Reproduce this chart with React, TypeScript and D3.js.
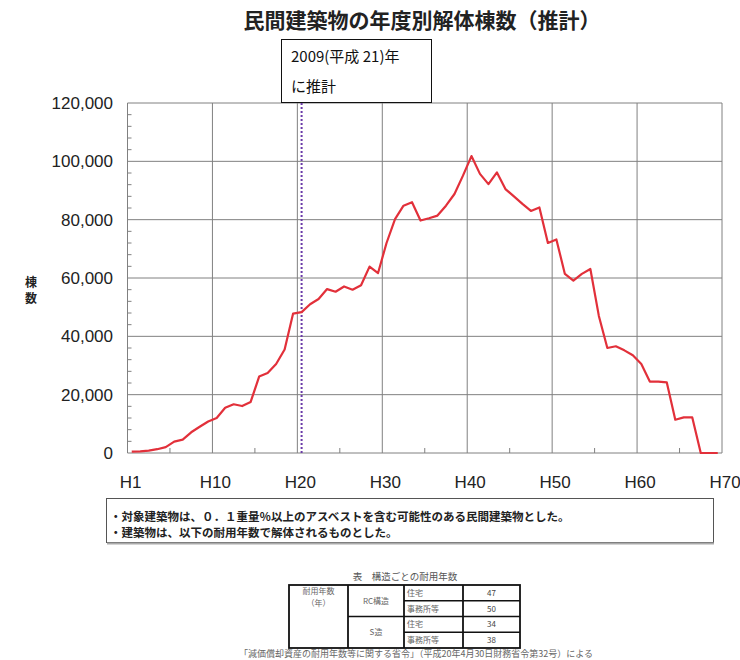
import React, { useRef, useEffect } from 'react';
import * as d3 from 'd3';

// chart title and labels
const title = '民間建築物の年度別解体棟数（推計）';
const yAxisTitle = ['棟', '数'];
const estimateNote = ['2009(平成 21)年', 'に推計'];
const estimateYear = 21;

// demolished buildings per fiscal year, H1 .. H70
const demolitions = [
    450, 550, 800, 1300, 2000, 3900, 4600, 7100, 9000, 10800,
    12000, 15500, 16700, 16100, 17500, 26200, 27400, 30500, 35500, 47800,
    48300, 51000, 52800, 56200, 55300, 57100, 56000, 57500, 63900, 61700,
    72000, 80200, 84800, 86000, 79700, 80500, 81400, 84800, 88800, 95100,
    101800, 95700, 92200, 96200, 90500, 88000, 85400, 83000, 84200, 72000,
    73200, 61400, 59100, 61400, 63100, 47000, 36000, 36600, 35200, 33500,
    30500, 24500, 24500, 24200, 11400, 12200, 12200, 0, 0, 0,
];

const xTicks = [0, 10, 20, 30, 40, 50, 60, 70];
const xTickLabels = ['H1', 'H10', 'H20', 'H30', 'H40', 'H50', 'H60', 'H70'];
const xMinorTicks = [5, 15, 25, 35, 45, 55, 65];
const yTicks = [0, 20000, 40000, 60000, 80000, 100000, 120000];

const notes = [
    '・対象建築物は、０．１重量％以上のアスベストを含む可能性のある民間建築物とした。',
    '・建築物は、以下の耐用年数で解体されるものとした。',
];

// table of service lives
const tableCaption = '表　構造ごとの耐用年数';
const lifeHeader = ['耐用年数', '（年）'];
const structures = ['RC構造', 'S造'];
const uses = ['住宅', '事務所等'];
const lifetimes = [47, 50, 34, 38];
const tableSource = '「減価償却資産の耐用年数等に関する省令」（平成20年4月30日財務省令第32号）による';

const JP = '"Noto Sans CJK JP", sans-serif';
const LAT = '"Liberation Sans", Arial, sans-serif';

const DemolitionChart = () => {
    const chartRef = useRef<SVGSVGElement>(null);

    useEffect(() => {
        const width = 740;
        const height = 660;
        const svg = d3.select(chartRef.current)
            .attr('width', width)
            .attr('height', height);
        svg.selectAll('*').remove();

        svg.append('rect').attr('width', width).attr('height', height).attr('fill', '#fff');

        const x = d3.scaleLinear().domain([0, 70]).range([127.5, 722]);
        const y = d3.scaleLinear().domain([0, 120000]).range([453, 103]);
        const gridColor = '#808080';

        // title
        svg.append('text')
            .attr('x', 422).attr('y', 28)
            .attr('text-anchor', 'middle')
            .style('font-family', JP).style('font-weight', 'bold').style('font-size', '21px')
            .attr('fill', '#222')
            .text(title);

        // horizontal grid
        svg.append('g')
            .selectAll('line')
            .data(yTicks)
            .enter().append('line')
            .attr('x1', x(0)).attr('x2', x(70))
            .attr('y1', d => y(d)).attr('y2', d => y(d))
            .attr('stroke', gridColor).attr('stroke-width', 1);

        // vertical grid
        svg.append('g')
            .selectAll('line')
            .data(xTicks)
            .enter().append('line')
            .attr('x1', d => x(d)).attr('x2', d => x(d))
            .attr('y1', y(0)).attr('y2', y(120000))
            .attr('stroke', gridColor).attr('stroke-width', 1);

        // minor ticks
        svg.append('g')
            .selectAll('line')
            .data(xMinorTicks)
            .enter().append('line')
            .attr('x1', d => x(d)).attr('x2', d => x(d))
            .attr('y1', y(0)).attr('y2', y(0) - 5)
            .attr('stroke', gridColor);
        svg.append('g')
            .selectAll('line')
            .data(d3.range(0, 120001, 4000).filter(v => v % 20000 !== 0))
            .enter().append('line')
            .attr('x1', x(0)).attr('x2', x(0) + 4)
            .attr('y1', d => y(d)).attr('y2', d => y(d))
            .attr('stroke', gridColor);

        // y labels
        svg.append('g')
            .selectAll('text')
            .data(yTicks)
            .enter().append('text')
            .attr('x', 113).attr('y', d => y(d) + 6)
            .attr('text-anchor', 'end')
            .style('font-family', LAT).style('font-size', '17px')
            .attr('fill', '#222')
            .text(d => d3.format(',')(d));

        // x labels
        svg.append('g')
            .selectAll('text')
            .data(xTicks)
            .enter().append('text')
            .attr('x', d => x(d) + 3).attr('y', 488)
            .attr('text-anchor', 'middle')
            .style('font-family', LAT).style('font-size', '17px')
            .attr('fill', '#222')
            .text((d, i) => xTickLabels[i]);

        // y axis title, stacked vertically
        svg.append('g')
            .selectAll('text')
            .data(yAxisTitle)
            .enter().append('text')
            .attr('x', 31).attr('y', (d, i) => 287 + i * 16)
            .attr('text-anchor', 'middle')
            .style('font-family', JP).style('font-weight', 'bold').style('font-size', '12px')
            .attr('fill', '#222')
            .text(d => d);

        // estimate marker
        svg.append('line')
            .attr('x1', x(estimateYear - 0.5)).attr('x2', x(estimateYear - 0.5))
            .attr('y1', y(120000)).attr('y2', y(0))
            .attr('stroke', '#6a3aa8').attr('stroke-width', 2)
            .attr('stroke-dasharray', '2 2');

        // series line
        const line = d3.line<number>()
            .x((d, i) => x(i + 0.5))
            .y(d => y(d));
        svg.append('path')
            .datum(demolitions)
            .attr('d', line)
            .attr('fill', 'none')
            .attr('stroke', '#e2303a')
            .attr('stroke-width', 2.2)
            .attr('stroke-linejoin', 'round');

        // annotation box
        const box = svg.append('g');
        box.append('rect')
            .attr('x', 281.5).attr('y', 39.5).attr('width', 150).attr('height', 63)
            .attr('fill', '#fff').attr('stroke', '#111').attr('stroke-width', 1);
        box.selectAll('text')
            .data(estimateNote)
            .enter().append('text')
            .attr('x', 291).attr('y', (d, i) => 62 + i * 30)
            .style('font-family', JP).style('font-size', '15px')
            .attr('fill', '#111')
            .text(d => d);

        // note box
        const note = svg.append('g');
        note.append('rect')
            .attr('x', 106.5).attr('y', 498.5).attr('width', 607).attr('height', 44)
            .attr('fill', '#fff').attr('stroke', '#555').attr('stroke-width', 1);
        note.append('line')
            .attr('x1', 107).attr('x2', 714).attr('y1', 543.5).attr('y2', 543.5)
            .attr('stroke', '#aaa').attr('stroke-width', 2);
        note.selectAll('text')
            .data(notes)
            .enter().append('text')
            .attr('x', 110).attr('y', (d, i) => 521 + i * 16)
            .style('font-family', JP).style('font-weight', 'bold').style('font-size', '11.5px')
            .attr('fill', '#222')
            .text(d => d);

        // service life table
        const cols = [289, 348, 404, 463, 520];
        const rowY = d3.scaleBand<number>().domain([0, 1, 2, 3]).range([585, 648]);
        const rh = rowY.bandwidth();
        const tbl = svg.append('g')
            .style('font-family', JP).style('font-size', '8px');
        tbl.append('text')
            .attr('x', 405).attr('y', 580)
            .attr('text-anchor', 'middle')
            .attr('fill', '#555')
            .style('font-size', '9.5px')
            .text(tableCaption);
        tbl.append('rect')
            .attr('x', cols[0]).attr('y', 585).attr('width', cols[4] - cols[0]).attr('height', 63)
            .attr('fill', '#fff').attr('stroke', '#111').attr('stroke-width', 1.8);
        cols.slice(1, 4).forEach(cx => {
            tbl.append('line')
                .attr('x1', cx).attr('x2', cx).attr('y1', 585).attr('y2', 648)
                .attr('stroke', '#111').attr('stroke-width', 1.8);
        });
        [1, 2, 3].forEach(r => {
            tbl.append('line')
                .attr('x1', r === 2 ? cols[1] : cols[2]).attr('x2', cols[4])
                .attr('y1', rowY(r)).attr('y2', rowY(r))
                .attr('stroke', '#111').attr('stroke-width', 1.6);
        });
        tbl.selectAll('.hdr')
            .data(lifeHeader)
            .enter().append('text')
            .attr('x', (cols[0] + cols[1]) / 2).attr('y', (d, i) => 594 + i * 12)
            .attr('text-anchor', 'middle').attr('fill', '#666')
            .text(d => d);
        tbl.selectAll('.st')
            .data(structures)
            .enter().append('text')
            .attr('x', (cols[1] + cols[2]) / 2).attr('y', (d, i) => rowY(i * 2) + rh + 3)
            .attr('text-anchor', 'middle').attr('fill', '#666')
            .text(d => d);
        tbl.selectAll('.use')
            .data(lifetimes)
            .enter().append('text')
            .attr('x', cols[2] + 3).attr('y', (d, i) => rowY(i) + rh / 2 + 3)
            .attr('fill', '#666')
            .text((d, i) => uses[i % 2]);
        tbl.selectAll('.life')
            .data(lifetimes)
            .enter().append('text')
            .attr('x', (cols[3] + cols[4]) / 2).attr('y', (d, i) => rowY(i) + rh / 2 + 3)
            .attr('text-anchor', 'middle').attr('fill', '#444')
            .text(d => d);
        tbl.append('text')
            .attr('x', 416).attr('y', 657)
            .attr('text-anchor', 'middle').attr('fill', '#666')
            .style('font-size', '9px')
            .text(tableSource);
    }, []);

    return <svg ref={chartRef} style={{ display: 'block' }}></svg>;
};

export default function App() {
    return (
        <div style={{ position: 'absolute', left: 0, top: 0 }}>
            <DemolitionChart />
        </div>
    );
}
